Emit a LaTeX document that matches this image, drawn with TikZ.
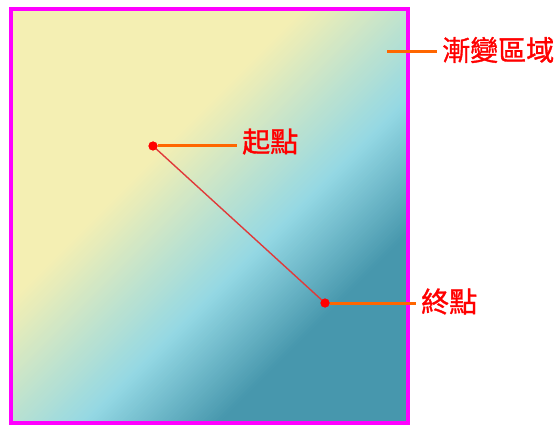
\documentclass[tikz,border=0pt]{standalone}
\usepackage{fontspec}
\newfontfamily\cjk[FakeBold=1.2]{Noto Sans CJK TC}
\definecolor{gyel}{HTML}{F4EFB3}
\definecolor{gblue}{HTML}{94D8E4}
\definecolor{gteal}{HTML}{4797AD}
\definecolor{framec}{HTML}{FF00FF}
\definecolor{leadc}{HTML}{FF6600}
\definecolor{dotc}{HTML}{FF0000}
\definecolor{pathc}{HTML}{E03A3A}
\begin{document}
\begin{tikzpicture}[x=1pt,y=-1pt,
  dotnode/.style={circle,fill=dotc,inner sep=0pt,minimum size=9pt},
  lbl/.style={anchor=west,text=dotc,font=\cjk\fontsize{28}{28}\selectfont,inner xsep=5pt,inner ysep=0pt},
  leader/.style={draw=leadc,line width=3pt},
  gradpath/.style={draw=pathc,line width=1.4pt},
  frameline/.style={draw=framec,line width=3.5pt}]
\useasboundingbox (0,0) rectangle (557,425);
% gradient area
\begin{scope}
  \clip (11,9) rectangle (408,423);
  \fill[gyel] (11,9) rectangle (408,423);
  \foreach \s in {300,303,...,846} {
    \pgfmathtruncatemacro\pa{max(0,min(100,(\s-310)/1.95))}
    \pgfmathtruncatemacro\pb{max(0,min(100,(\s-505)/1.35))}
    \fill[gteal!\pb!gblue!\pa!gyel] (\s+450,-450) -- (\s-450,450) -- (\s+3.8-450,450) -- (\s+3.8+450,-450) -- cycle;
  }
\end{scope}
\draw[frameline] (11,9) rectangle (408,423);
% start and end points
\node[dotnode] (start) at (153,146) {};
\node[dotnode] (end) at (325,303) {};
\draw[gradpath] (start.center) -- (end.center);
\node[dotnode] at (start.center) {};
\node[dotnode] at (end.center) {};
% labels
\node[lbl] (startlbl) at (237,141.5) {起點};
\node[lbl] (endlbl) at (416,301.5) {終點};
\node[lbl] (reglbl) at (437,50) {漸變區域};
\coordinate (regpt) at (387,52);
\draw[leader] (start) -- (start -| startlbl.west);
\draw[leader] (end) -- (end -| endlbl.west);
\draw[leader] (regpt) -- (regpt -| reglbl.west);
\end{tikzpicture}
\end{document}
